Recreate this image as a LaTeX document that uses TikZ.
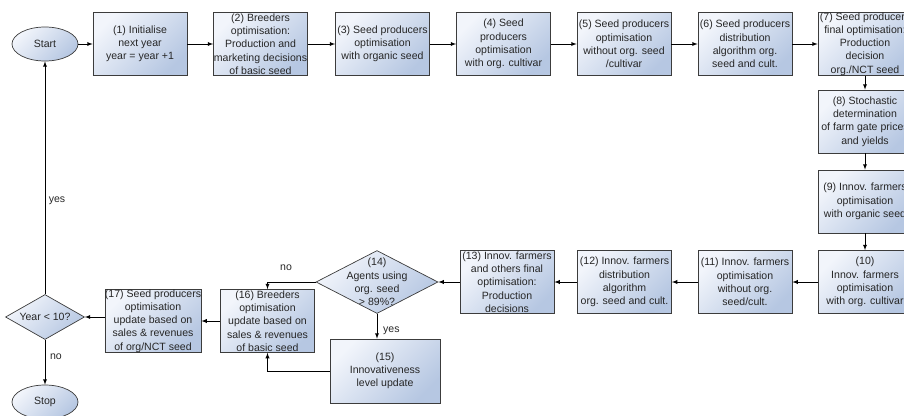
\documentclass[tikz,border=0pt]{standalone}
\usepackage{fontspec}
\setmainfont{Liberation Sans}
\usetikzlibrary{positioning,arrows,shapes.geometric}
\definecolor{boxlight}{RGB}{242,245,251}
\definecolor{boxdark}{RGB}{182,199,226}
\definecolor{edgegray}{RGB}{60,60,60}

\begin{document}
\begin{tikzpicture}[x=0.03cm, y=-0.03cm, >=latex,
  font=\fontsize{9}{11.3}\selectfont, text=black!85,
  grad/.style={draw=edgegray, line width=0.6pt, top color=boxlight, bottom color=boxdark, shading angle=45},
  box/.style={grad, rectangle, minimum width=2.82cm, minimum height=1.89cm, align=center, inner sep=0pt},
  term/.style={grad, ellipse, minimum width=1.98cm, minimum height=1.02cm, inner sep=0pt},
  dec/.style={grad, diamond, inner sep=0pt},
  conn/.style={->, line width=0.6pt}]
  \useasboundingbox (0,0) rectangle (904,415);
  \clip (0,0) rectangle (904,415);

  \node[term] (start) at (45,44) {Start};
  \node[box] (b1) at (140,44) {(1) Initialise\\next year\\year = year +1};
  \node[box] (b2) at (260.5,44) {(2) Breeders\\optimisation:\\Production and\\marketing decisions\\of basic seed};
  \node[box] (b3) at (382.5,44) {(3) Seed producers\\optimisation\\with organic seed};
  \node[box] (b4) at (503.5,44) {(4) Seed\\producers\\optimisation\\with org. cultivar};
  \node[box] (b5) at (624,44) {(5) Seed producers\\optimisation\\without org. seed\\/cultivar};
  \node[box] (b6) at (745,44) {(6) Seed producers\\distribution\\algorithm org.\\seed and cult.};
  \node[box] (b7) at (865,44) {(7) Seed producers\\final optimisation:\\Production\\decision\\org./NCT seed};
  \node[box] (b8) at (865,121.5) {(8) Stochastic\\determination\\of farm gate prices\\and yields};
  \node[box] (b9) at (865,201.5) {(9) Innov. farmers\\optimisation\\with organic seed};
  \node[box] (b10) at (865,282) {(10)\\Innov. farmers\\optimisation\\with org. cultivar};
  \node[box] (b11) at (745,282) {(11) Innov. farmers\\optimisation\\without org.\\seed/cult.};
  \node[box] (b12) at (624.5,282) {(12) Innov. farmers\\distribution\\algorithm\\org. seed and cult.};
  \node[box] (b13) at (507,282) {(13) Innov. farmers\\and others final\\optimisation:\\Production\\decisions};
  \node[dec, minimum width=3.66cm, minimum height=1.89cm] (d14) at (377,282) {};
  \node[align=center] (d14t) at (d14) {(14)\\Agents using\\org. seed\\> 89\%?};
  \node[box, minimum width=3.3cm, minimum height=1.92cm] (b15) at (385,371) {(15)\\Innovativeness\\level update};
  \node[box] (b16) at (267.5,321) {(16) Breeders\\optimisation\\update based on\\sales \& revenues\\of basic seed};
  \node[box] (b17) at (153,321) {(17) Seed producers\\optimisation\\update based on\\sales \& revenues\\of org/NCT seed};
  \node[dec, minimum width=2.37cm, minimum height=1.35cm] (dy) at (45,317) {};
  \node (dyt) at (dy) {Year < 10?};
  \node[term] (stop) at (45,402) {Stop};

  \foreach \a/\b in {start/b1,b1/b2,b2/b3,b3/b4,b4/b5,b5/b6,b6/b7,b7/b8,b8/b9,b9/b10,
                     b10/b11,b11/b12,b12/b13,b13/d14,b16/b17}
    \draw[conn] (\a) -- (\b);
  \draw[conn] (d14.west) -| (b16.north);
  \draw[conn] (d14.south) -- (d14.south |- b15.north);
  \draw[conn] (b15.west) -| (b16.south);
  \draw[conn] (b17.west |- dy) -- (dy.east);
  \draw[conn] (dy.south) -- (stop.north);
  \draw[conn] (dy.north) -- (start.south);

  \node (lno1) at (286,268) {no};
  \node[right] (lyes1) at (379,331) {yes};
  \node (lyes2) at (57,201) {yes};
  \node (lno2) at (56,357) {no};
\end{tikzpicture}
\end{document}
